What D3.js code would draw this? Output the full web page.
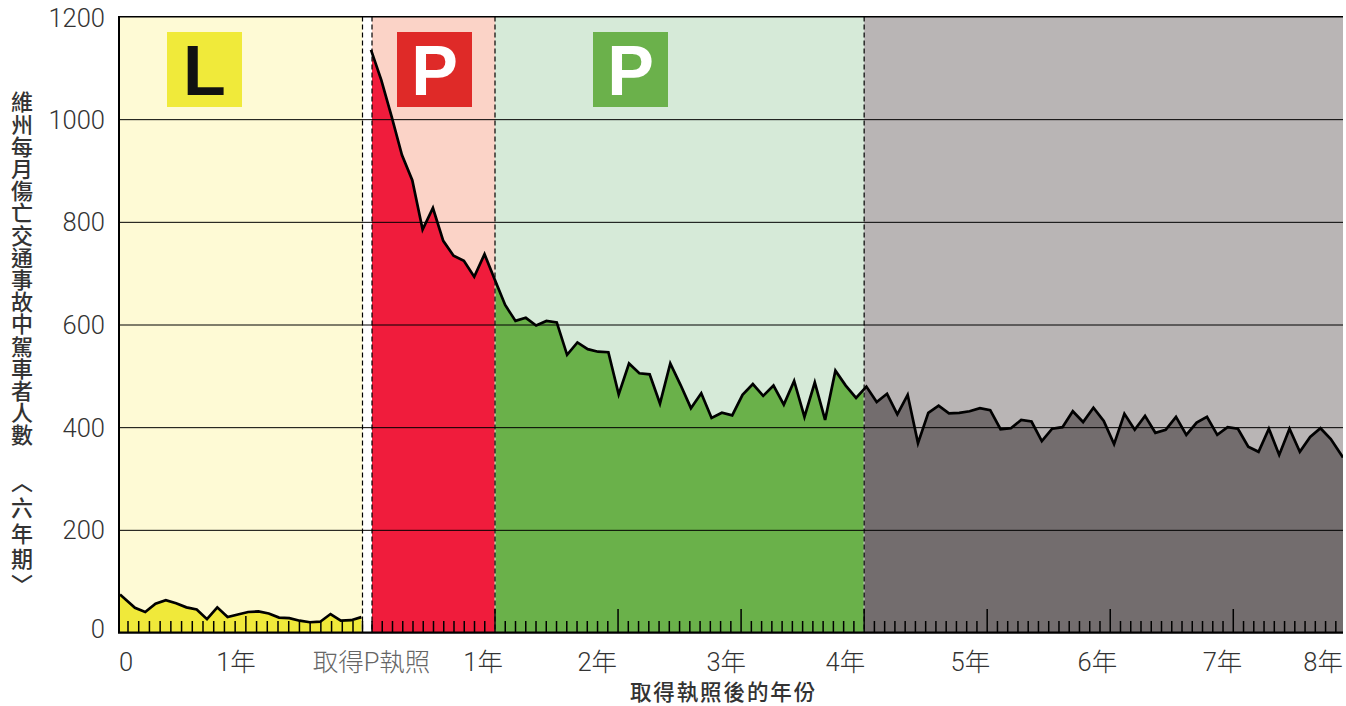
<!DOCTYPE html>
<html>
<head>
<meta charset="utf-8">
<script src="https://cdn.jsdelivr.net/npm/d3@7/dist/d3.min.js"></script>
<style>
html,body{margin:0;padding:0;background:#fff;overflow:hidden}
svg{display:block}
</style>
</head>
<body>
<svg id="chart" width="1346" height="706"></svg>
<script>
// ---------- data ----------
const learnerValues = [74,48,40,56,63,57,49,45,26,49,30,35,40,41,37,29,28,23,20,21,36,23,24,30];
const licensedValues = [
  1135,1076,1005,930,881,785,827,763,734,724,693,737,
  687,638,607,613,598,607,604,541,565,552,547,546,
  464,524,505,503,446,524,482,437,466,418,428,423,
  463,484,461,481,444,490,420,487,414,510,481,457,
  479,449,465,425,463,369,428,442,427,428,431,437,
  433,396,398,414,411,373,397,400,431,410,438,412,
  367,426,395,422,389,395,420,385,409,420,385,400,
  397,362,352,397,346,397,352,381,398,377,341
];
const yTicks = [0,200,400,600,800,1000,1200];
const learnerYearTick = 12;
const licensedYearTicks = [12,24,36,48,60,72,84];
const zoneEdges = [12,48];
const xLabels = ["0","1年","取得P執照","1年","2年","3年","4年","5年","6年","7年","8年"];
const xTitle = "取得執照後的年份";
const yTitle = "維州每月傷亡交通事故中駕車者人數";
const yTitleTail = "〈六年期〉";

// ---------- scales ----------
const svg = d3.select("#chart");
const plotLeft = 120, plotRight = 1343, plotTop = 16.5, plotBottom = 632.5;
const y = d3.scaleLinear().domain([0,1200]).range([plotBottom, plotTop]);
// Data points (month index) on each of the two time axes
const xLearner = d3.scaleLinear().domain([0,23.45]).range([120,361.4]);
const xLicensed = d3.scaleLinear().domain([0,93,94]).range([371,1330.8,1343]);
// Tick marks have their own slightly different spacing in the original
const tLearner = d3.scaleLinear().domain([1,22]).range([128,353]);
const tLicensed = d3.scaleLinear().domain([0,12,94.7]).range([372,495,1343]);

const learnerPts = learnerValues.map((v,i)=>[i===0?0:i+0.45, v]);
const licensedPts = licensedValues.map((v,i)=>[i, v]);

const gapL = 362.5, gapR = 372;
const edgeA = tLicensed(zoneEdges[0]), edgeB = tLicensed(zoneEdges[1]);

// ---------- backgrounds ----------
const zones = [
  {x0:plotLeft,  x1:gapL,  bg:"#fefad5"},
  {x0:gapR,  x1:edgeA, bg:"#fbd3c7"},
  {x0:edgeA, x1:edgeB, bg:"#d6ead8"},
  {x0:edgeB, x1:plotRight, bg:"#b9b5b5"}
];
svg.selectAll("rect.zone").data(zones).join("rect").attr("class","zone")
  .attr("x",d=>d.x0).attr("y",plotTop).attr("width",d=>d.x1-d.x0).attr("height",plotBottom-plotTop)
  .attr("fill",d=>d.bg);

// ---------- areas ----------
const defs = svg.append("defs");
function clip(id,x0,x1){
  defs.append("clipPath").attr("id",id).append("rect")
    .attr("x",x0).attr("y",plotTop).attr("width",x1-x0).attr("height",plotBottom-plotTop);
}
clip("cL",plotLeft,gapL); clip("cR",gapR,edgeA-0.5); clip("cG",edgeA+0.5,edgeB-0.5); clip("cK",edgeB+0.5,plotRight);
clip("cAll",plotLeft,plotRight);

const areaL = d3.area().x(d=>xLearner(d[0])).y0(plotBottom).y1(d=>y(d[1]));
const areaP = d3.area().x(d=>xLicensed(d[0])).y0(plotBottom).y1(d=>y(d[1]));
svg.append("path").attr("d",areaL(learnerPts)).attr("fill","#f0e93a").attr("clip-path","url(#cL)");
[["cR","#f01c3c"],["cG","#6ab14a"],["cK","#736d6e"]].forEach(([c,col])=>{
  svg.append("path").attr("d",areaP(licensedPts)).attr("fill",col).attr("clip-path",`url(#${c})`);
});

// ---------- y axis + grid ----------
const yAxis = d3.axisLeft(y).tickValues(yTicks).tickFormat(d3.format("d")).tickSize(plotLeft-plotRight).tickPadding(15).tickSizeOuter(0);
const gy = svg.append("g").attr("transform",`translate(${plotLeft},0)`).call(yAxis);
gy.select(".domain").remove();
gy.selectAll("line").attr("stroke","#000").attr("stroke-width",1);
gy.selectAll("text")
  .attr("font-family","Roboto, sans-serif").attr("font-weight",300)
  .attr("font-size",25.5).attr("fill","#333")
  .attr("dy",d=> d===1200 ? "0.72em" : d===0 ? "0.2em" : "0.35em")
  .attr("y",d=> d===1200 ? -8 : 0);

// ---------- lines ----------
const lineL = d3.line().x(d=>xLearner(d[0])).y(d=>y(d[1]));
const lineP = d3.line().x(d=>xLicensed(d[0])).y(d=>y(d[1]));
svg.append("path").attr("d",lineL(learnerPts)).attr("fill","none").attr("stroke","#000").attr("stroke-width",2.7).attr("stroke-linejoin","miter").attr("clip-path","url(#cAll)");
svg.append("path").attr("d",lineP(licensedPts)).attr("fill","none").attr("stroke","#000").attr("stroke-width",2.7).attr("stroke-linejoin","miter").attr("clip-path","url(#cAll)");

// ---------- dashed separators ----------
svg.selectAll("line.sep").data([gapL,gapR,edgeA,edgeB]).join("line").attr("class","sep")
  .attr("x1",d=>d).attr("x2",d=>d).attr("y1",plotTop).attr("y2",plotBottom)
  .attr("stroke","#000").attr("stroke-width",1.2).attr("stroke-dasharray","5 3");

// ---------- x ticks ----------
const tickTop = 621, yearTop = 609, yearTopL = 616;
const ticks = [];
d3.range(1,23).forEach(m=>ticks.push({x:tLearner(m), top:m===learnerYearTick?yearTopL:tickTop}));
ticks.push({x:gapL, top:tickTop}, {x:gapR, top:tickTop});
d3.range(1,95).forEach(m=>ticks.push({x:tLicensed(m), top:licensedYearTicks.includes(m)?yearTop:tickTop}));
svg.selectAll("line.tick").data(ticks).join("line").attr("class","tick")
  .attr("x1",d=>d.x).attr("x2",d=>d.x).attr("y1",d=>d.top).attr("y2",plotBottom)
  .attr("stroke","#000").attr("stroke-width",1.5);

// ---------- axis frame ----------
svg.append("line").attr("x1",plotLeft-1).attr("x2",plotRight).attr("y1",plotTop).attr("y2",plotTop).attr("stroke","#000").attr("stroke-width",1);
svg.append("line").attr("x1",plotLeft-1).attr("x2",plotLeft-1).attr("y1",plotTop-0.5).attr("y2",plotBottom+1).attr("stroke","#000").attr("stroke-width",2);
svg.append("line").attr("x1",plotLeft-2).attr("x2",plotRight).attr("y1",plotBottom).attr("y2",plotBottom).attr("stroke","#000").attr("stroke-width",2);

// ---------- x labels ----------
const cjk = "'Noto Sans CJK TC', sans-serif";
const labelCfg = [
  {x:119, a:"start"},
  {x:tLearner(12)+10, a:"end"},
  {x:371.5, a:"middle"},
  {x:tLicensed(12)+8, a:"end"},
  {x:tLicensed(24)-1, a:"end"},
  {x:tLicensed(36)+5, a:"end"},
  {x:tLicensed(48)+1, a:"end"},
  {x:tLicensed(60)+3, a:"end"},
  {x:tLicensed(72)+7, a:"end"},
  {x:tLicensed(84)+9, a:"end"},
  {x:plotRight, a:"end"}
];
xLabels.forEach((t,i)=>{
  const c = labelCfg[i];
  svg.append("text").attr("x",c.x).attr("y",671)
    .attr("text-anchor",c.a).attr("font-size",25.5).attr("font-weight",300)
    .attr("font-family",`Roboto, ${cjk}`).attr("fill",i===2?"#666":"#333").text(t);
});
svg.append("text").attr("x",723.5).attr("y",700).attr("text-anchor","middle")
  .attr("font-family",cjk).attr("font-weight",500).attr("font-size",21.5).attr("letter-spacing",1.9)
  .attr("fill","#333").text(xTitle);

// ---------- y title (vertical) ----------
svg.append("text").attr("x",22).attr("y",91)
  .style("writing-mode","vertical-rl")
  .attr("font-family",cjk).attr("font-weight",500).attr("font-size",22).attr("letter-spacing",0.2)
  .attr("fill","#333").text(yTitle);
svg.append("text").attr("x",22).attr("y",471)
  .style("writing-mode","vertical-rl")
  .attr("font-family",cjk).attr("font-weight",500).attr("font-size",22).attr("letter-spacing",3.7)
  .attr("fill","#333").text(yTitleTail);

// ---------- badges ----------
const badges = [
  {x:167,c:"#f0ea3a",t:"L",f:"#111"},
  {x:397,c:"#df2a28",t:"P",f:"#fff"},
  {x:593,c:"#6bb14b",t:"P",f:"#fff"}
];
badges.forEach(b=>{
  svg.append("rect").attr("x",b.x).attr("y",32).attr("width",75).attr("height",75).attr("fill",b.c);
  svg.append("text").attr("x",b.x+37.5).attr("y",94.5).attr("text-anchor","middle")
    .attr("font-family","'Liberation Sans', Arial, sans-serif").attr("font-weight",700)
    .attr("font-size",70).attr("fill",b.f).text(b.t);
});
</script>
</body>
</html>
